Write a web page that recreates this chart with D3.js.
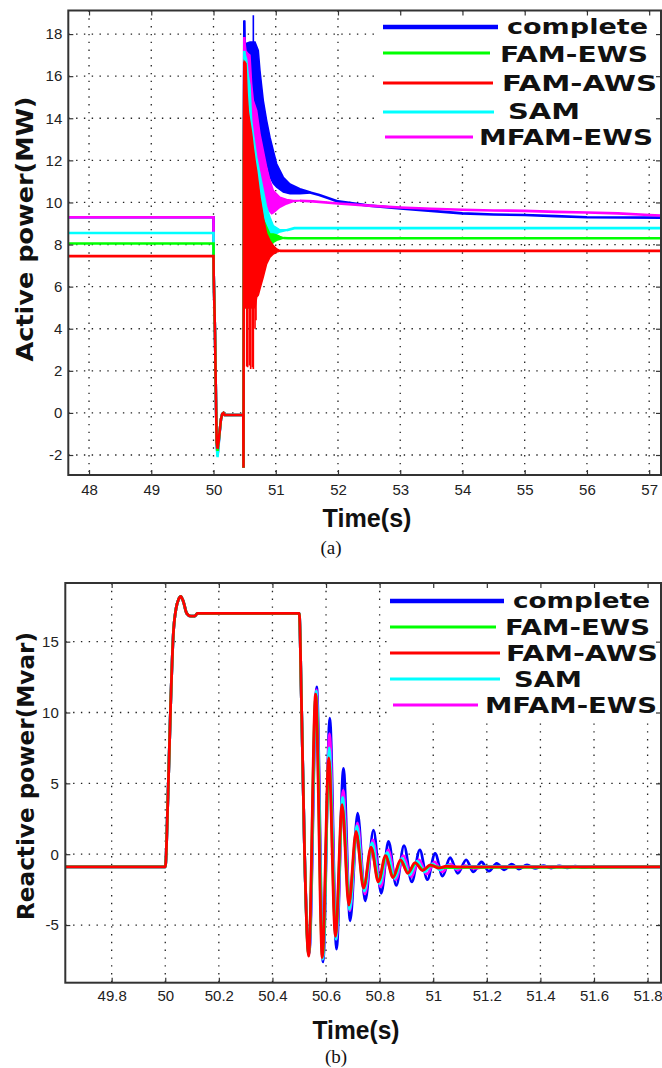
<!DOCTYPE html>
<html>
<head>
<meta charset="utf-8">
<script src="https://cdn.jsdelivr.net/npm/d3@7"></script>
<style>
  html, body { margin: 0; padding: 0; background: #fff; }
  svg { display: block; }
  .tick text { font-family: "Liberation Sans Narrow", "Arial Narrow", "Liberation Sans", sans-serif; font-size: 15px; fill: #222; }
</style>
</head>
<body>
<svg id="fig" width="662" height="1068"></svg>
<script>
// ---------- shared legend entries ----------
const seriesNames  = ["complete", "FAM-EWS", "FAM-AWS", "SAM", "MFAM-EWS"];
const seriesColors = ["#0000ff", "#00ff00", "#ff0000", "#00ffff", "#ff00ff"];

// ---------- (a) active power, MW ----------
const activeXTicks = [48, 49, 50, 51, 52, 53, 54, 55, 56, 57];
const activeYTicks = [-2, 0, 2, 4, 6, 8, 10, 12, 14, 16, 18];

// pre-fault level, fault dip, plateau and re-closing spike
const activeCompleteFault = [[47.667, 9.3], [50.0, 9.3], [50.003, 6.6], [50.024, 3.8], [50.04, 0.6], [50.051, -1.4], [50.065, -2.0], [50.08, -1.5], [50.1, -0.85], [50.12, -0.3], [50.14, -0.05], [50.16, 0.0], [50.18, -0.1], [50.479, -0.1], [50.482, -2.6], [50.488, 12.2], [50.495, 18.65]];
const activeFamEwsFault   = [[47.667, 8.05], [50.0, 8.05], [50.003, 6.6], [50.024, 3.8], [50.04, 0.6], [50.051, -1.4], [50.065, -1.8], [50.08, -1.45], [50.1, -0.85], [50.12, -0.3], [50.14, -0.05], [50.16, 0.0], [50.18, -0.1], [50.479, -0.1], [50.482, -2.6], [50.488, 12.2], [50.495, 16.0]];
const activeFamAwsFault   = [[47.667, 7.45], [50.0, 7.45], [50.003, 6.6], [50.024, 3.8], [50.04, 0.6], [50.051, -1.4], [50.065, -1.7], [50.08, -1.4], [50.1, -0.85], [50.12, -0.3], [50.14, -0.05], [50.16, 0.0], [50.18, -0.1], [50.479, -0.1], [50.482, -2.6], [50.488, 12.2], [50.495, 16.7]];
const activeSamFault      = [[47.667, 8.55], [50.0, 8.55], [50.003, 6.6], [50.024, 3.8], [50.04, 0.6], [50.051, -1.5], [50.065, -2.1], [50.08, -1.6], [50.1, -0.9], [50.12, -0.3], [50.14, -0.05], [50.16, 0.0], [50.18, -0.1], [50.479, -0.1], [50.482, -2.6], [50.488, 12.2], [50.495, 17.2]];
const activeMfamEwsFault  = [[47.667, 9.3], [50.0, 9.3], [50.003, 6.6], [50.024, 3.8], [50.04, 0.6], [50.051, -1.5], [50.065, -2.0], [50.08, -1.55], [50.1, -0.9], [50.12, -0.3], [50.14, -0.05], [50.16, 0.0], [50.18, -0.1], [50.479, -0.1], [50.482, -2.6], [50.488, 12.2], [50.495, 17.86]];

// fast oscillation after re-closing: [time, lower envelope, upper envelope]
const activeCompleteBand = [[50.495, 8, 18.65], [50.51, 8, 17.54], [50.586, 8, 17.62], [50.667, 9, 17.62], [50.72, 10, 17.22], [50.747, 11, 16.27], [50.8, 11.5, 14.85], [50.854, 11.9, 13.9], [50.908, 11.2, 13.1], [50.961, 10.9, 12.47], [51.015, 10.73, 11.84], [51.122, 10.49, 11.2], [51.229, 10.41, 10.88], [51.39, 10.41, 10.65], [51.55, 10.45, 10.5]];
const activeFamEwsBand   = [[50.495, 5, 16.0], [50.6, 5, 13], [50.7, 6, 11], [50.8, 7, 9.2], [50.908, 7.9, 8.5], [50.961, 8.1, 8.5], [51.015, 8.2, 8.45], [51.068, 8.25, 8.38], [51.122, 8.3, 8.32]];
const activeFamAwsBand   = [[50.495, 5.0, 16.7], [50.522, 5.0, 16.6], [50.54, 5.0, 15.2], [50.56, 5.0, 14.3], [50.586, 5.0, 13.8], [50.613, 5.0, 13.3], [50.64, 5.0, 12.6], [50.667, 5.0, 12.0], [50.694, 5.5, 11.5], [50.72, 5.6, 10.9], [50.747, 5.9, 10.25], [50.8, 6.45, 9.3], [50.854, 7.08, 8.52], [50.908, 7.4, 8.19], [50.961, 7.55, 7.95], [51.015, 7.64, 7.79], [51.068, 7.68, 7.72]];
const activeSamBand      = [[50.495, 5.0, 17.2], [50.533, 5.0, 16.8], [50.56, 5.0, 16.0], [50.586, 5.0, 15.56], [50.613, 5.0, 13.9], [50.64, 5.5, 13.26], [50.694, 6.0, 12.15], [50.747, 6.5, 11.36], [50.8, 7.5, 10.57], [50.854, 8.4, 9.77], [50.908, 8.35, 9.3], [50.961, 8.42, 8.9], [51.068, 8.6, 8.7], [51.175, 8.67, 8.7]];
const activeMfamEwsBand  = [[50.495, 6, 17.86], [50.522, 6, 17.2], [50.56, 6, 17.06], [50.586, 6, 17.0], [50.613, 6, 15.64], [50.64, 7, 14.85], [50.694, 8, 14.37], [50.747, 9, 13.26], [50.8, 10.0, 12.47], [50.854, 9.77, 11.68], [50.908, 9.54, 11.04], [50.935, 9.46, 10.8], [50.961, 9.5, 10.57], [51.068, 9.77, 10.25], [51.175, 9.93, 10.14], [51.283, 10.04, 10.09], [51.39, 10.08, 10.09]];

// isolated excursions reaching beyond the envelopes: [time, from, to]
const activeCompleteSpikes = [[50.64, 17.6, 18.89]];
const activeFamAwsSpikes   = [[50.533, 5, 2.2], [50.549, 5, 2.17], [50.576, 5, 2.25], [50.597, 5, 2.09], [50.624, 5, 2.17], [50.64, 5, 2.09], [50.667, 5, 4.0], [50.683, 5.5, 4.4]];

// slow settling to the new operating point
const activeCompleteSettle = [[51.55, 10.47], [51.7, 10.35], [52.0, 10.05], [52.5, 9.85], [53.0, 9.72], [53.5, 9.6], [54.0, 9.48], [54.5, 9.43], [55.0, 9.4], [55.5, 9.35], [56.0, 9.3], [57.19, 9.28]];
const activeFamEwsSettle   = [[51.122, 8.31], [51.2, 8.3], [57.19, 8.3]];
const activeFamAwsSettle   = [[51.068, 7.7], [57.19, 7.7]];
const activeSamSettle      = [[51.175, 8.68], [51.3, 8.78], [57.19, 8.78]];
const activeMfamEwsSettle  = [[51.39, 10.08], [51.6, 10.05], [52.0, 9.95], [52.5, 9.85], [53.0, 9.76], [53.5, 9.7], [54.0, 9.65], [54.5, 9.62], [55.0, 9.6], [55.5, 9.55], [56.0, 9.52], [56.5, 9.48], [57.0, 9.4], [57.19, 9.38]];

// ---------- (b) reactive power, Mvar ----------
const reactiveXTicks = [49.8, 50, 50.2, 50.4, 50.6, 50.8, 51, 51.2, 51.4, 51.6, 51.8];
const reactiveYTicks = [-5, 0, 5, 10, 15];

// common response up to re-closing
const reactiveRise = [[49.627, -0.9], [50.0, -0.9], [50.01, 4], [50.02, 10.5], [50.03, 15.5], [50.04, 17.3], [50.05, 18.0], [50.058, 18.2], [50.068, 17.8], [50.08, 17.0], [50.095, 16.8], [50.11, 16.8], [50.12, 17.0], [50.5, 17.0]];

// damped swings after re-closing (peaks and troughs)
const reactiveComplete = [[50.5, 17.0], [50.508, 11], [50.52, 0], [50.537, -7.0], [50.565, 11.8], [50.589, -7.6], [50.614, 9.6], [50.639, -6.7], [50.665, 6.06], [50.69, -4.7], [50.718, 2.9], [50.746, -3.3], [50.777, 1.7], [50.806, -2.76], [50.833, 0.9], [50.862, -2.2], [50.891, 0.6], [50.92, -1.95], [50.95, 0.3], [50.978, -1.8], [51.007, 0.05], [51.035, -1.55], [51.063, -0.25], [51.092, -1.35], [51.123, -0.4], [51.15, -1.25], [51.18, -0.55], [51.208, -1.2], [51.237, -0.65], [51.265, -1.1], [51.293, -0.7], [51.32, -1.05], [51.35, -0.75], [51.38, -1.0], [51.41, -0.8], [51.44, -0.98], [51.47, -0.83], [51.5, -0.96], [51.53, -0.85], [51.56, -0.93], [51.6, -0.9], [51.85, -0.9]];
const reactiveFamEws   = [[50.5, 17.0], [50.508, 11], [50.52, 0], [50.535, -7.1], [50.562, 11.2], [50.587, -7.2], [50.611, 6.6], [50.636, -5.6], [50.661, 3.3], [50.686, -3.4], [50.713, 1.4], [50.741, -2.3], [50.769, 0.4], [50.796, -1.9], [50.823, -0.2], [50.851, -1.6], [50.879, -0.45], [50.906, -1.3], [50.934, -0.65], [50.962, -1.1], [50.99, -0.8], [51.03, -0.95], [51.85, -0.9]];
const reactiveFamAws   = [[50.5, 17.0], [50.508, 11], [50.52, 0], [50.535, -7.2], [50.561, 11.3], [50.586, -7.3], [50.61, 6.8], [50.635, -5.8], [50.66, 3.5], [50.685, -3.6], [50.712, 1.6], [50.74, -2.4], [50.768, 0.5], [50.795, -1.95], [50.822, -0.1], [50.85, -1.65], [50.878, -0.4], [50.905, -1.35], [50.932, -0.6], [50.96, -1.15], [50.99, -0.75], [51.02, -0.98], [51.05, -0.85], [51.1, -0.9], [51.85, -0.9]];
const reactiveSam      = [[50.5, 17.0], [50.508, 11], [50.52, 0], [50.536, -7.1], [50.563, 11.5], [50.588, -7.4], [50.612, 7.5], [50.637, -6.0], [50.662, 4.0], [50.688, -3.9], [50.715, 2.0], [50.743, -2.6], [50.772, 0.8], [50.8, -2.1], [50.828, 0.1], [50.856, -1.7], [50.884, -0.3], [50.912, -1.45], [50.94, -0.5], [50.968, -1.25], [50.996, -0.68], [51.025, -1.1], [51.055, -0.78], [51.085, -1.0], [51.12, -0.86], [51.85, -0.9]];
const reactiveMfamEws  = [[50.5, 17.0], [50.508, 11], [50.52, 0], [50.536, -7.1], [50.564, 11.6], [50.588, -7.4], [50.613, 8.5], [50.638, -6.0], [50.664, 4.5], [50.689, -4.0], [50.717, 2.2], [50.745, -2.8], [50.775, 1.0], [50.804, -2.3], [50.832, 0.3], [50.86, -1.8], [50.889, -0.1], [50.918, -1.6], [50.947, -0.4], [50.976, -1.4], [51.005, -0.55], [51.034, -1.25], [51.063, -0.7], [51.092, -1.1], [51.12, -0.8], [51.15, -1.0], [51.2, -0.88], [51.85, -0.9]];

// ---------- drawing ----------
const svg = d3.select("#fig");
svg.append("rect").attr("width", 662).attr("height", 1068).attr("fill", "#fff");

const AXIS_FONT = '"Liberation Sans Narrow", "Arial Narrow", "Liberation Sans", sans-serif';
const TITLE_FONT = '"DejaVu Sans", Verdana, sans-serif';

function panel(cfg) {
  const x = d3.scaleLinear().domain(cfg.xDomain).range([cfg.left, cfg.right]);
  const y = d3.scaleLinear().domain(cfg.yDomain).range([cfg.bottom, cfg.top]);
  const w = cfg.right - cfg.left, h = cfg.bottom - cfg.top;
  const g = svg.append("g");

  // dotted grid
  const grid = g.append("g").attr("stroke", "#222").attr("stroke-width", 1.3).attr("stroke-dasharray", "1.4,6.4");
  grid.selectAll("line.v").data(cfg.xTicks).join("line").attr("class", "v")
    .attr("x1", d => x(d)).attr("x2", d => x(d)).attr("y1", cfg.top).attr("y2", cfg.bottom);
  grid.selectAll("line.h").data(cfg.yTicks).join("line").attr("class", "h")
    .attr("x1", cfg.left).attr("x2", cfg.right).attr("y1", d => y(d)).attr("y2", d => y(d));

  // legend area hides the grid behind it
  g.append("rect").attr("x", cfg.legendBox[0]).attr("y", cfg.legendBox[1])
    .attr("width", cfg.legendBox[2]).attr("height", cfg.legendBox[3]).attr("fill", "#fff");

  const clipId = "clip" + cfg.id;
  svg.append("clipPath").attr("id", clipId).append("rect")
    .attr("x", cfg.left).attr("y", cfg.top).attr("width", w).attr("height", h);
  const plot = g.append("g").attr("clip-path", `url(#${clipId})`);

  // axes with inward ticks
  const ax = g.append("g").attr("transform", `translate(0,${cfg.bottom})`)
    .call(d3.axisBottom(x).tickValues(cfg.xTicks).tickFormat(cfg.fmt).tickSizeInner(-5).tickSizeOuter(0).tickPadding(cfg.xPad));
  const axT = g.append("g").attr("transform", `translate(0,${cfg.top})`)
    .call(d3.axisTop(x).tickValues(cfg.xTicks).tickFormat("").tickSizeInner(-5).tickSizeOuter(0));
  const ay = g.append("g").attr("transform", `translate(${cfg.left},0)`)
    .call(d3.axisLeft(y).tickValues(cfg.yTicks).tickFormat(d => d3.format("d")(d).replace("−", "-")).tickSizeInner(-5).tickSizeOuter(0).tickPadding(cfg.yPad));
  const ayR = g.append("g").attr("transform", `translate(${cfg.right},0)`)
    .call(d3.axisRight(y).tickValues(cfg.yTicks).tickFormat("").tickSizeInner(-5).tickSizeOuter(0));
  [ax, axT, ay, ayR].forEach(a => {
    a.select(".domain").remove();
    a.selectAll(".tick line").attr("stroke", "#333").attr("stroke-width", 1.2);
    a.selectAll(".tick text").attr("fill", "#222").style("font-family", AXIS_FONT).style("font-size", "15px");
  });

  // frame
  g.append("rect").attr("x", cfg.left).attr("y", cfg.top).attr("width", w).attr("height", h)
    .attr("fill", "none").attr("stroke", "#333").attr("stroke-width", 2);

  return { x, y, plot, g };
}

function legend(g, rows) {
  rows.forEach((r, i) => {
    g.append("line").attr("x1", r.x1).attr("x2", r.x2).attr("y1", r.y).attr("y2", r.y)
      .attr("stroke", seriesColors[i]).attr("stroke-width", r.lw);
    g.append("text").attr("x", r.tx).attr("y", r.base).text(seriesNames[i])
      .attr("font-family", TITLE_FONT).attr("font-weight", "bold").attr("font-size", r.fs)
      .attr("textLength", r.tw).attr("lengthAdjust", "spacingAndGlyphs").attr("fill", "#111");
  });
}

// ---- panel (a)
const A = panel({
  id: "a", xDomain: [47.667, 57.19], yDomain: [-2.95, 19.12],
  left: 68.3, right: 661, top: 10.5, bottom: 475,
  xTicks: activeXTicks, yTicks: activeYTicks, fmt: d3.format("d"),
  xPad: 9, yPad: 6, legendBox: [377, 11.5, 283, 142]
});
{
  const line = d3.line().x(d => A.x(d[0])).y(d => A.y(d[1]));
  const band = d3.area().x(d => A.x(d[0])).y0(d => A.y(d[1])).y1(d => A.y(d[2]));
  const traces = [
    { c: seriesColors[0], fault: activeCompleteFault, band: activeCompleteBand, settle: activeCompleteSettle, spikes: activeCompleteSpikes },
    { c: seriesColors[4], fault: activeMfamEwsFault,  band: activeMfamEwsBand,  settle: activeMfamEwsSettle,  spikes: [] },
    { c: seriesColors[3], fault: activeSamFault,      band: activeSamBand,      settle: activeSamSettle,      spikes: [] },
    { c: seriesColors[1], fault: activeFamEwsFault,   band: activeFamEwsBand,   settle: activeFamEwsSettle,   spikes: [] },
    { c: seriesColors[2], fault: activeFamAwsFault,   band: activeFamAwsBand,   settle: activeFamAwsSettle,   spikes: activeFamAwsSpikes }
  ];
  traces.forEach(t => {
    A.plot.append("path").datum(t.band).attr("d", band).attr("fill", t.c).attr("stroke", t.c).attr("stroke-width", 1.5);
    [t.fault, t.settle].forEach(seg => A.plot.append("path").datum(seg).attr("d", line)
      .attr("fill", "none").attr("stroke", t.c).attr("stroke-width", 2.6).attr("stroke-linejoin", "miter"));
    A.plot.selectAll(null).data(t.spikes).join("line")
      .attr("x1", d => A.x(d[0])).attr("x2", d => A.x(d[0])).attr("y1", d => A.y(d[1])).attr("y2", d => A.y(d[2]))
      .attr("stroke", t.c).attr("stroke-width", 1.6);
  });
  legend(A.g, [
    { x1: 383, x2: 498, y: 27,  lw: 4.5, tx: 507, base: 34,  fs: 21, tw: 141 },
    { x1: 383, x2: 490, y: 53,  lw: 3,   tx: 500, base: 62,  fs: 21, tw: 148 },
    { x1: 383, x2: 493, y: 83,  lw: 3,   tx: 502, base: 91,  fs: 21, tw: 155 },
    { x1: 383, x2: 494, y: 112, lw: 3,   tx: 508, base: 119, fs: 21, tw: 72 },
    { x1: 385, x2: 473, y: 137, lw: 3,   tx: 479, base: 145, fs: 21, tw: 174 }
  ]);
}

// ---- panel (b)
const B = panel({
  id: "b", xDomain: [49.627, 51.85], yDomain: [-9.07, 19.14],
  left: 65.3, right: 661, top: 583, bottom: 982.7,
  xTicks: reactiveXTicks, yTicks: reactiveYTicks, fmt: d => d3.format("")(+d.toFixed(1)),
  xPad: 7.5, yPad: 6.5, legendBox: [388, 584, 272, 137]
});
{
  const line = d3.line().x(d => B.x(d[0])).y(d => B.y(d[1])).curve(d3.curveMonotoneX);
  const traces = [
    [seriesColors[0], reactiveComplete],
    [seriesColors[4], reactiveMfamEws],
    [seriesColors[3], reactiveSam],
    [seriesColors[1], reactiveFamEws],
    [seriesColors[2], reactiveFamAws]
  ];
  traces.forEach(([c, data]) => {
    B.plot.append("path").datum(reactiveRise.concat(data.slice(1))).attr("d", line)
      .attr("fill", "none").attr("stroke", c).attr("stroke-width", 2.8);
  });
  legend(B.g, [
    { x1: 390, x2: 504, y: 601, lw: 4.5, tx: 513, base: 608, fs: 21, tw: 137 },
    { x1: 390, x2: 496, y: 627, lw: 3,   tx: 505, base: 635, fs: 21, tw: 145 },
    { x1: 390, x2: 500, y: 653, lw: 3,   tx: 506, base: 661, fs: 21, tw: 152 },
    { x1: 390, x2: 500, y: 679, lw: 3,   tx: 514, base: 687, fs: 21, tw: 68 },
    { x1: 393, x2: 478, y: 705, lw: 3,   tx: 485, base: 713, fs: 21, tw: 172 }
  ]);
}

// ---- axis titles and captions
function title(txt, x, y, len, size, rot, font) {
  svg.append("text").attr("transform", `translate(${x},${y}) rotate(${rot})`)
    .attr("text-anchor", "middle").attr("font-family", font).attr("font-weight", "bold")
    .attr("font-size", size).attr("textLength", len).attr("lengthAdjust", "spacingAndGlyphs")
    .attr("fill", "#111").text(txt);
}
title("Active power(MW)", 33, 229, 265, 23, -90, TITLE_FONT);
title("Reactive power(Mvar)", 34, 776, 288, 23, -90, TITLE_FONT);
title("Time(s)", 367, 527, 89, 25, 0, '"Liberation Sans Narrow", "Liberation Sans", sans-serif');
title("Time(s)", 356, 1039, 87, 25, 0, '"Liberation Sans Narrow", "Liberation Sans", sans-serif');

svg.append("text").attr("x", 331).attr("y", 554).attr("text-anchor", "middle")
  .attr("font-family", '"Liberation Serif", "Times New Roman", serif').attr("font-size", 19).attr("fill", "#111").text("(a)");
svg.append("text").attr("x", 336).attr("y", 1063).attr("text-anchor", "middle")
  .attr("font-family", '"Liberation Serif", "Times New Roman", serif').attr("font-size", 19).attr("fill", "#111").text("(b)");
</script>
</body>
</html>
